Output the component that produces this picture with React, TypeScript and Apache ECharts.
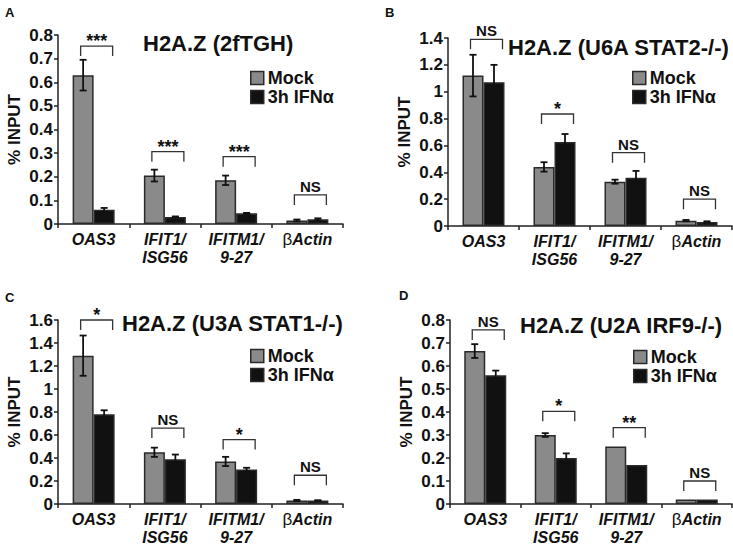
import React, { useEffect, useRef } from "react";
import * as echarts from "echarts";

const categories = ["OAS3", "IFIT1/\nISG56", "IFITM1/\n9-27", "βActin"];
const seriesNames = ["Mock", "3h IFNα"];
const panelLetters = ["A", "B", "C", "D"];
const panelTitles = ["H2A.Z (2fTGH)", "H2A.Z (U6A STAT2-/-)", "H2A.Z (U3A STAT1-/-)", "H2A.Z (U2A IRF9-/-)"];

// Panel A
const mockA = [0.63, 0.205, 0.185, 0.015];
const mockErrA = [0.065, 0.025, 0.02, 0.004];
const ifnA = [0.06, 0.03, 0.045, 0.02];
const ifnErrA = [0.008, 0.002, 0.002, 0.004];
const bracketA = [0.753, 0.306, 0.285, 0.123];
const sigA = ["***", "***", "***", "NS"];

// Panel B
const mockB = [1.12, 0.44, 0.33, 0.04];
const mockErrB = [0.155, 0.035, 0.015, 0.005];
const ifnB = [1.07, 0.625, 0.36, 0.03];
const ifnErrB = [0.13, 0.06, 0.05, 0.005];
const bracketB = [1.39, 0.834, 0.546, 0.2];
const sigB = ["NS", "*", "NS", "NS"];

// Panel C
const mockC = [1.29, 0.45, 0.37, 0.03];
const mockErrC = [0.175, 0.04, 0.04, 0.006];
const ifnC = [0.78, 0.39, 0.3, 0.03];
const ifnErrC = [0.035, 0.04, 0.015, 0.003];
const bracketC = [1.6, 0.66, 0.56, 0.25];
const sigC = ["*", "NS", "*", "NS"];

// Panel D
const mockD = [0.665, 0.3, 0.25, 0.02];
const mockErrD = [0.03, 0.008, 0, 0];
const ifnD = [0.56, 0.2, 0.17, 0.02];
const ifnErrD = [0.02, 0.02, 0, 0];
const bracketD = [0.757, 0.403, 0.332, 0.1];
const sigD = ["NS", "*", "**", "NS"];

const yMaxes = [0.8, 1.4, 1.6, 0.8];
const yIntervals = [0.1, 0.2, 0.2, 0.1];

const panels = [
  { mock: mockA, mockErr: mockErrA, ifn: ifnA, ifnErr: ifnErrA, bracket: bracketA, sig: sigA },
  { mock: mockB, mockErr: mockErrB, ifn: ifnB, ifnErr: ifnErrB, bracket: bracketB, sig: sigB },
  { mock: mockC, mockErr: mockErrC, ifn: ifnC, ifnErr: ifnErrC, bracket: bracketC, sig: sigC },
  { mock: mockD, mockErr: mockErrD, ifn: ifnD, ifnErr: ifnErrD, bracket: bracketD, sig: sigD },
];

const FONT = "'Liberation Sans', Arial, sans-serif";

const grids = [
  { left: 58, top: 35, width: 285, height: 189 },
  { left: 448, top: 38, width: 284, height: 188 },
  { left: 58, top: 320, width: 285, height: 189 },
  { left: 450, top: 320, width: 282, height: 187 },
];
const legendPos = [
  { left: 250, top: 69 },
  { left: 632, top: 69 },
  { left: 250, top: 347 },
  { left: 633, top: 348 },
];
const titlePos = [
  { x: 143, y: 43 },
  { x: 508, y: 47 },
  { x: 122, y: 323 },
  { x: 520, y: 325 },
];
const letterPos = [
  { x: 5, y: 12 },
  { x: 385, y: 12 },
  { x: 5, y: 297 },
  { x: 399, y: 295 },
];

const MOCK_COLOR = "#8a8a8a";
const IFN_COLOR = "#111111";
const BAR_W = 21;

export default function App() {
  const ref = useRef<HTMLDivElement>(null);
  useEffect(() => {
    if (!ref.current) return;
    const chart = echarts.init(ref.current, null, { renderer: "svg" });

    const xAxis: any[] = [];
    const yAxis: any[] = [];
    const series: any[] = [];
    const legend: any[] = [];
    const graphic: any[] = [];

    panels.forEach((p, i) => {
      xAxis.push({
        type: "category",
        gridIndex: i,
        data: categories,
        axisLine: { lineStyle: { color: "#222", width: 1.5 } },
        axisTick: { show: true, length: 4, lineStyle: { color: "#222", width: 1.5 } },
        axisLabel: {
          interval: 0,
          margin: 6,
          fontFamily: FONT,
          fontSize: 16,
          fontWeight: "bold",
          fontStyle: "italic",
          color: "#111",
          lineHeight: 18,
          formatter: (v: string) => (v === "βActin" ? "{g|β}{i|Actin}" : v),
          rich: {
            g: { fontFamily: FONT, fontSize: 17, fontWeight: "normal", fontStyle: "normal", color: "#111" },
            i: { fontFamily: FONT, fontSize: 16, fontWeight: "bold", fontStyle: "italic", color: "#111" },
          },
        },
      });
      yAxis.push({
        type: "value",
        gridIndex: i,
        min: 0,
        max: yMaxes[i],
        interval: yIntervals[i],
        name: "% INPUT",
        nameLocation: "middle",
        nameRotate: 90,
        nameGap: 35,
        nameTextStyle: { fontFamily: FONT, fontSize: 17, fontWeight: "bold", color: "#111" },
        axisLine: { show: true, lineStyle: { color: "#222", width: 1.5 } },
        axisTick: { show: true, length: 4, lineStyle: { color: "#222", width: 1.5 } },
        splitLine: { show: false },
        axisLabel: {
          margin: 5,
          fontFamily: FONT,
          fontSize: 17,
          fontWeight: "bold",
          color: "#111",
        },
      });

      series.push({
        type: "bar",
        name: seriesNames[0],
        xAxisIndex: i,
        yAxisIndex: i,
        data: p.mock,
        barWidth: BAR_W,
        barGap: "0%",
        itemStyle: { color: MOCK_COLOR, borderColor: "#2a2a2a", borderWidth: 1.5 },
      });
      series.push({
        type: "bar",
        name: seriesNames[1],
        xAxisIndex: i,
        yAxisIndex: i,
        data: p.ifn,
        barWidth: BAR_W,
        barGap: "0%",
        itemStyle: { color: IFN_COLOR, borderColor: "#2a2a2a", borderWidth: 1.5 },
      });

      const errSeries = (vals: number[], errs: number[], off: number, nm: string) => ({
        type: "custom",
        name: nm,
        xAxisIndex: i,
        yAxisIndex: i,
        z: 5,
        data: vals.map((v, k) => [k, v, errs[k]]),
        encode: { x: 0, y: 1 },
        renderItem: (_params: any, api: any) => {
          const cat = api.value(0);
          const v = api.value(1);
          const e = api.value(2);
          if (!e) return { type: "group", children: [] };
          const top = api.coord([cat, v + e]);
          const bot = api.coord([cat, v - e]);
          const x = top[0] + off;
          const st = { stroke: "#111", lineWidth: 1.8 };
          return {
            type: "group",
            children: [
              { type: "line", shape: { x1: x, y1: top[1], x2: x, y2: bot[1] }, style: st },
              { type: "line", shape: { x1: x - 3.5, y1: top[1], x2: x + 3.5, y2: top[1] }, style: st },
              { type: "line", shape: { x1: x - 3.5, y1: bot[1], x2: x + 3.5, y2: bot[1] }, style: st },
            ],
          };
        },
      });
      series.push(errSeries(p.mock, p.mockErr, -BAR_W / 2, "errMock" + i));
      series.push(errSeries(p.ifn, p.ifnErr, BAR_W / 2, "errIfn" + i));

      const sig = p.sig;
      series.push({
        type: "custom",
        name: "sig" + i,
        xAxisIndex: i,
        yAxisIndex: i,
        z: 6,
        data: p.bracket.map((b, k) => [k, b]),
        encode: { x: 0, y: 1 },
        renderItem: (params: any, api: any) => {
          const pt = api.coord([api.value(0), api.value(1)]);
          const cx = pt[0] + 3;
          const y = pt[1];
          const half = 16;
          const label = sig[params.dataIndex];
          const isNS = label === "NS";
          return {
            type: "group",
            children: [
              {
                type: "polyline",
                shape: { points: [[cx - half, y + 10], [cx - half, y], [cx + half, y], [cx + half, y + 10]] },
                style: { stroke: "#333", lineWidth: 1.3, fill: "none" },
              },
              {
                type: "text",
                x: cx,
                y: isNS ? y - 1 : y + 4,
                style: {
                  text: label,
                  textAlign: "center",
                  textVerticalAlign: "bottom",
                  font: `bold ${isNS ? 15 : 18}px ${FONT}`,
                  fill: "#111",
                },
              },
            ],
          };
        },
      });

      legend.push({
        data: seriesNames,
        orient: "vertical",
        left: legendPos[i].left,
        top: legendPos[i].top,
        padding: 0,
        itemWidth: 13,
        itemHeight: 13,
        itemGap: 1,
        icon: "rect",
        selectedMode: false,
        itemStyle: { borderColor: "#2a2a2a", borderWidth: 1.5 },
        textStyle: { fontFamily: FONT, fontSize: 18, fontWeight: "bold", color: "#111", padding: [0, 0, 0, -1] },
      });

      graphic.push({
        type: "text",
        x: titlePos[i].x,
        y: titlePos[i].y,
        style: {
          text: panelTitles[i],
          textVerticalAlign: "middle",
          font: `bold 22px ${FONT}`,
          fill: "#111",
        },
      });
      graphic.push({
        type: "text",
        x: letterPos[i].x,
        y: letterPos[i].y,
        style: {
          text: panelLetters[i],
          textVerticalAlign: "middle",
          font: `bold 13px ${FONT}`,
          fill: "#111",
        },
      });
    });

    chart.setOption({
      animation: false,
      backgroundColor: "#ffffff",
      grid: grids,
      xAxis,
      yAxis,
      series,
      legend,
      graphic,
    });
    return () => chart.dispose();
  }, []);

  return <div ref={ref} style={{ position: "fixed", left: 0, top: 0, width: 733, height: 546 }} />;
}
